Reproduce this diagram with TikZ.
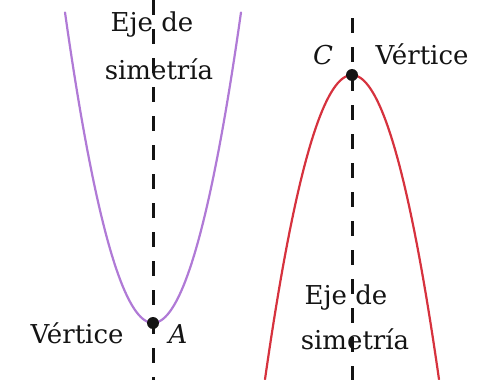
\documentclass[tikz,border=0pt]{standalone}
\usepackage{fontspec}
\setmainfont{DejaVu Serif}
\usepackage{tikz}
\usetikzlibrary{positioning}
\definecolor{ink}{RGB}{20,20,20}
\definecolor{curvepurple}{RGB}{176,122,214}
\definecolor{curvered}{RGB}{214,50,62}
\tikzset{
  axisline/.style={draw=ink, line width=1.5pt, dash pattern=on 7.5pt off 7pt},
  curve/.style={line width=1.1pt, line cap=round},
  vtx/.style={circle, fill=ink, inner sep=0pt, minimum size=6pt},
  lbl/.style={font=\fontsize{13}{16}\selectfont, text=ink, inner sep=0pt, anchor=base},
}

\begin{document}
\begin{tikzpicture}[x=0.5pt,y=-0.5pt]
  \useasboundingbox (0,0) rectangle (488,380);
  % parabola opening upward
  \coordinate (axAtop) at (153,0);
  \coordinate (axAbot) at (153,380);
  \draw[axisline] (axAtop) -- (axAbot);
  \draw[curve, draw=curvepurple, domain=-88:88, samples=80]
    plot ({153+\x},{323-0.0401*\x*\x});
  \node[vtx] (A) at (153,323) {};
  \node[lbl] (labA) at (178,343) {\itshape A};
  \node[lbl] (vertA) at (77,343) {Vértice};
  \node[lbl] (ejeAtop) at (152,32) {Eje de};
  \node[lbl] (ejeAbot) at (159,79) {simetría};
  % parabola opening downward
  \coordinate (axCtop) at (352,18);
  \coordinate (axCbot) at (352,380);
  \draw[axisline] (axCtop) -- (axCbot);
  \draw[curve, draw=curvered, domain=-87:87, samples=80]
    plot ({352+\x},{75+0.0402*\x*\x});
  \node[vtx] (C) at (352,75) {};
  \node[lbl] (labC) at (323,64) {\itshape C};
  \node[lbl] (vertC) at (422,64) {Vértice};
  \node[lbl] (ejeCtop) at (346,304) {Eje de};
  \node[lbl] (ejeCbot) at (355,349) {simetría};
\end{tikzpicture}
\end{document}
